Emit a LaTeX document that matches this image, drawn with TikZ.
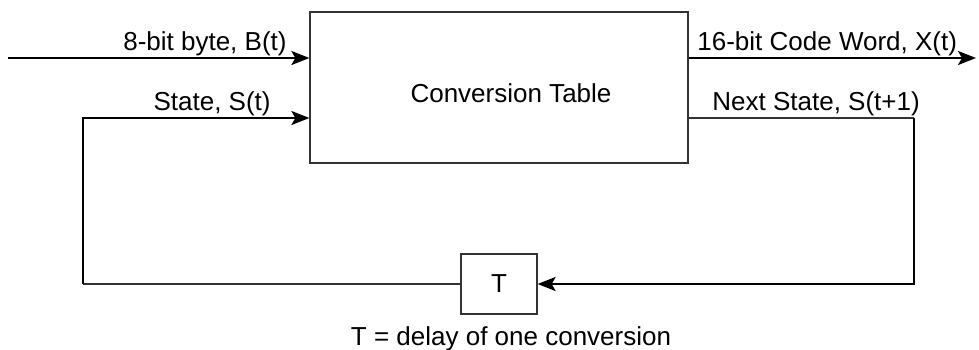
\documentclass[tikz,border=0pt]{standalone}
\usepackage{fontspec}
\setmainfont{Liberation Sans}
\usetikzlibrary{arrows.meta, positioning, calc}

\begin{document}
\begin{tikzpicture}[x=0.5pt, y=-0.5pt, >={Stealth[length=9pt,width=7pt,inset=2pt]},
    every node/.style={font=\fontsize{13}{15}\selectfont},
    block/.style={draw=black!80, line width=0.6pt, inner sep=0pt},
    lbl/.style={inner sep=0pt},
    wire/.style={line width=1.1pt},
    thinwire/.style={line width=0.6pt, draw=black!80}]
  \useasboundingbox (0,0) rectangle (979,349);

  % blocks
  \node[block, minimum width=189pt, minimum height=75.5pt] (table) at (499,87.5) {};
  \node[lbl] (tabletxt) at (511,93) {Conversion Table};
  \node[block, minimum width=38pt, minimum height=30pt] (delay) at (499,284) {T};
  \node[lbl, anchor=base] (note) at (511,345) {T = delay of one conversion};

  % wire end points and corners
  \coordinate (in) at (8,58);
  \coordinate (out) at (976,58);
  \coordinate (sl) at (83,118);
  \coordinate (sr) at (914,118);
  \coordinate (bl) at (83,284);
  \coordinate (br) at (914,284);

  % connectors
  \draw[wire,->] (in) -- (in -| table.west);
  \draw[wire,->] (table.east |- out) -- (out);
  \draw[thinwire] (delay.west) -- (bl);
  \draw[wire,->] (bl) -- (sl) -- (sl -| table.west);
  \draw[thinwire] (table.east |- sr) -- (sr);
  \draw[wire,->] (sr) -- (br) -- (delay.east);

  % labels
  \node[lbl, anchor=base east] (byte) at (287,50) {8-bit byte, B(t)};
  \node[lbl, anchor=base east] (state) at (271,110) {State, S(t)};
  \node[lbl, anchor=base west] (code) at (697,50) {16-bit Code Word, X(t)};
  \node[lbl, anchor=base west] (next) at (712,110) {Next State, S(t+1)};
\end{tikzpicture}
\end{document}
